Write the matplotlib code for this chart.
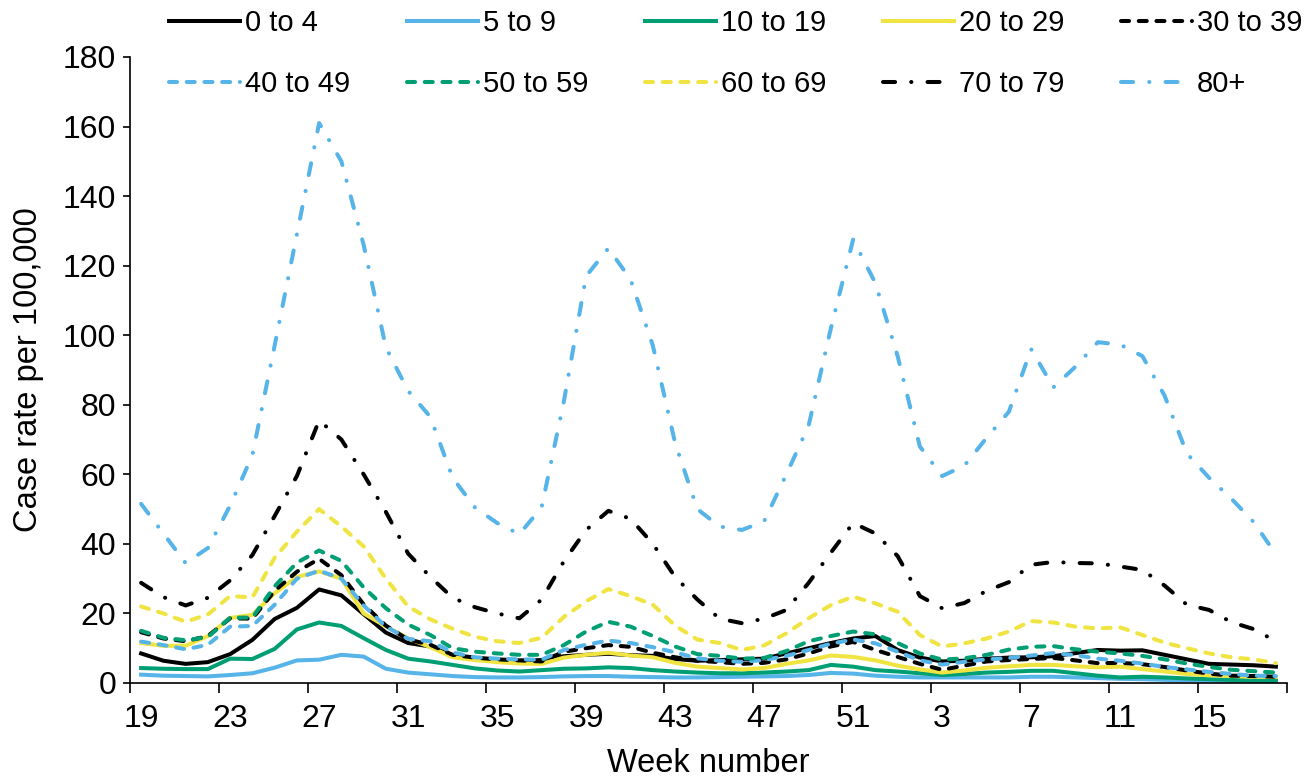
import numpy as np
import matplotlib
matplotlib.use('Agg')
from matplotlib import pyplot as plt

plt.rcParams['font.family'] = ['Liberation Sans', 'DejaVu Sans']

# week numbers, 2022 wk19 .. 2023 wk18
weeks = list(range(19, 53)) + list(range(1, 19))

age_0_4 = [8.5, 6.4, 5.5, 6.0, 8.3, 12.4, 18.4, 21.6, 26.9, 25.2,
           19.8, 14.5, 11.5, 10.5, 7.8, 7.0, 6.6, 6.4, 6.6, 7.7,
           8.1, 8.4, 8.0, 7.8, 6.9, 6.4, 6.6, 6.8, 7.0, 8.5,
           10.0, 11.5, 12.8, 13.5, 9.5, 7.3, 6.2, 6.4, 7.0, 7.3,
           7.4, 7.7, 8.6, 9.5, 9.3, 9.4, 8.1, 6.8, 5.5, 5.3,
           5.1, 4.7]
age_5_9 = [2.4, 2.1, 2.0, 1.9, 2.3, 2.8, 4.4, 6.5, 6.7, 8.1,
           7.6, 4.1, 3.0, 2.5, 2.0, 1.7, 1.6, 1.6, 1.7, 1.9,
           2.0, 2.0, 1.8, 1.7, 1.6, 1.6, 1.7, 1.8, 1.9, 2.0,
           2.3, 2.9, 2.7, 2.1, 1.8, 1.6, 1.6, 1.6, 1.6, 1.6,
           1.8, 1.8, 1.6, 1.4, 1.2, 1.1, 0.9, 0.8, 0.7, 0.6,
           0.6, 0.5]
age_10_19 = [4.3, 4.1, 4.0, 4.0, 7.0, 6.9, 9.8, 15.4, 17.4, 16.4,
             12.9, 9.5, 7.0, 6.2, 5.2, 4.2, 3.6, 3.3, 3.7, 4.1,
             4.2, 4.5, 4.3, 3.7, 3.3, 3.0, 2.8, 2.8, 3.0, 3.3,
             3.7, 5.2, 4.7, 3.7, 3.3, 2.8, 2.3, 2.6, 3.0, 3.2,
             3.5, 3.5, 2.8, 2.1, 1.6, 1.8, 1.6, 1.3, 1.1, 0.9,
             0.7, 0.7]
age_20_29 = [11.5, 10.7, 10.7, 13.5, 18.7, 19.6, 25.8, 30.5, 32.1, 30.0,
             20.0, 16.3, 12.8, 10.3, 7.4, 6.6, 6.0, 5.6, 5.5, 7.3,
             8.1, 8.7, 7.9, 7.4, 5.8, 4.7, 4.3, 3.9, 4.3, 5.5,
             6.5, 7.9, 7.5, 6.5, 5.0, 3.9, 3.0, 3.6, 4.4, 4.8,
             5.2, 5.2, 4.8, 4.5, 4.7, 4.0, 3.3, 2.6, 2.2, 2.0,
             1.8, 1.8]
age_30_39 = [14.6, 12.8, 12.0, 13.5, 18.6, 18.5, 26.5, 32.0, 35.7, 31.0,
             22.6, 16.5, 12.5, 11.0, 8.1, 7.3, 6.8, 6.5, 6.2, 9.0,
             10.0, 10.9, 10.4, 8.7, 7.4, 6.4, 6.0, 5.5, 5.8, 6.8,
             8.5, 10.5, 11.8, 9.5, 7.5, 5.5, 3.8, 5.0, 6.2, 6.6,
             6.9, 7.2, 6.5, 5.7, 5.8, 5.4, 4.6, 3.6, 2.7, 2.1,
             2.0, 1.8]
age_40_49 = [11.9, 10.9, 9.7, 11.0, 16.2, 16.4, 22.5, 30.0, 32.3, 30.0,
             22.3, 16.2, 12.7, 12.0, 8.8, 7.4, 7.0, 6.8, 6.7, 9.5,
             11.0, 12.2, 11.5, 10.3, 8.8, 7.1, 6.4, 6.1, 6.6, 7.8,
             9.5, 11.3, 12.5, 11.4, 9.0, 6.5, 5.3, 6.1, 6.8, 7.2,
             7.9, 8.6, 8.0, 7.0, 6.4, 5.6, 4.6, 3.9, 3.2, 2.6,
             2.1, 2.0]
age_50_59 = [15.0, 13.0, 12.3, 13.2, 18.8, 18.8, 27.8, 34.6, 38.1, 35.1,
             27.5, 21.5, 16.8, 13.8, 10.0, 9.0, 8.5, 8.1, 8.1, 10.9,
             14.8, 17.6, 16.2, 13.5, 10.5, 8.3, 7.8, 7.0, 7.2, 9.2,
             12.0, 13.5, 14.8, 14.0, 11.5, 8.5, 6.7, 7.1, 8.1, 9.6,
             10.4, 10.6, 9.7, 9.0, 8.5, 7.8, 6.8, 5.6, 4.6, 3.8,
             3.4, 3.0]
age_60_69 = [22.0, 20.0, 17.6, 19.7, 25.0, 24.6, 36.0, 43.5, 50.0, 45.0,
             39.3, 30.0, 22.0, 18.3, 15.6, 13.3, 12.0, 11.5, 13.0, 19.0,
             23.5, 27.0, 25.0, 22.5, 16.5, 12.5, 11.5, 9.5, 10.8, 14.3,
             18.6, 22.4, 24.8, 22.9, 20.5, 13.8, 10.5, 11.4, 12.8, 14.8,
             17.8, 17.4, 16.2, 15.7, 16.0, 13.8, 11.6, 10.0, 8.5, 7.4,
             6.8, 5.7]
age_70_79 = [28.8, 24.7, 22.3, 24.5, 29.5, 36.8, 48.0, 59.5, 75.5, 70.0,
             60.0, 49.2, 37.2, 30.5, 24.5, 21.8, 20.0, 18.6, 24.0, 35.0,
             44.0, 49.5, 47.2, 40.0, 30.5, 24.0, 18.5, 17.2, 18.5, 21.0,
             28.8, 37.5, 46.0, 43.0, 36.5, 25.0, 21.5, 23.0, 26.5, 29.0,
             34.0, 34.8, 34.5, 34.4, 33.5, 32.5, 28.0, 22.5, 21.0, 17.5,
             15.5, 12.0]
age_80 = [51.5, 43.0, 34.5, 38.8, 51.0, 65.5, 97.0, 129.0, 161.0, 150.0,
          126.0, 96.5, 84.0, 76.5, 59.0, 50.5, 46.0, 42.8, 50.5, 81.0,
          117.0, 125.0, 116.0, 97.0, 69.0, 50.0, 45.0, 44.0, 46.5, 60.0,
          74.0, 102.0, 127.5, 115.0, 94.0, 68.0, 59.5, 62.5, 70.5, 78.0,
          96.0, 85.0, 91.0, 98.0, 97.3, 94.0, 82.6, 66.0, 59.0, 53.0,
          46.3, 37.0]

labels = ['0 to 4', '5 to 9', '10 to 19', '20 to 29', '30 to 39',
          '40 to 49', '50 to 59', '60 to 69', '70 to 79', '80+']
values = [age_0_4, age_5_9, age_10_19, age_20_29, age_30_39,
          age_40_49, age_50_59, age_60_69, age_70_79, age_80]

black, blue, green, yellow = '#000000', '#56B4E9', '#009E73', '#F0E442'
colors = [black, blue, green, yellow, black, blue, green, yellow, black, blue]
dash_short = (2.0, 2.4)
dash_dot = (3.0, 4.0, 0.05, 4.0)
styles = [None] * 4 + [dash_short] * 4 + [dash_dot] * 2

fig = plt.figure(figsize=(13.12, 7.78), dpi=100)
ax = fig.add_axes([130 / 1312, 1 - 683 / 778, 1157 / 1312, 626 / 778])

x = np.arange(len(weeks))
lines = []
for lab, vals, col, dsh in zip(labels, values, colors, styles):
    line, = ax.plot(x, vals, color=col, lw=2.9, label=lab,
                    solid_joinstyle='round', dash_joinstyle='round',
                    dash_capstyle='round')
    if dsh is not None:
        line.set_dashes(dsh)
    lines.append(line)

ax.set_xlim(-0.5, len(weeks) - 0.5)
ax.set_ylim(0, 180)
ax.set_yticks(range(0, 181, 20))
ax.set_xticks(np.arange(-0.5, len(weeks), 4))
ax.set_xticklabels([])
ax.set_xticks(x[::4], minor=True)
ax.set_xticklabels([str(w) for w in weeks[::4]], minor=True)

ax.tick_params(axis='x', which='major', length=7, width=1.2, direction='out')
ax.tick_params(axis='x', which='minor', length=0, pad=15, labelsize=23)
ax.tick_params(axis='y', length=5, width=1.2, pad=5, labelsize=23)
for s in ['top', 'right']:
    ax.spines[s].set_visible(False)
for s in ['left', 'bottom']:
    ax.spines[s].set_linewidth(1.2)

ax.set_xlabel('Week number', fontsize=23.5)
ax.set_ylabel('Case rate per 100,000', fontsize=23.5)
ax.xaxis.set_label_coords(0.5, -0.104)
ax.yaxis.set_label_coords(-0.0745, 0.5)

# legend is filled column by column, so interleave the two rows
order = [0, 5, 1, 6, 2, 7, 3, 8, 4, 9]
fig.legend([lines[i] for i in order], [labels[i] for i in order],
           ncol=5, loc='upper left', bbox_to_anchor=(169 / 1312, 0.988),
           frameon=False, fontsize=21, borderpad=0, borderaxespad=0,
           handlelength=2.43, handletextpad=0.17, columnspacing=1.95,
           labelspacing=1.13)

fig.savefig('out.png', dpi=100)
